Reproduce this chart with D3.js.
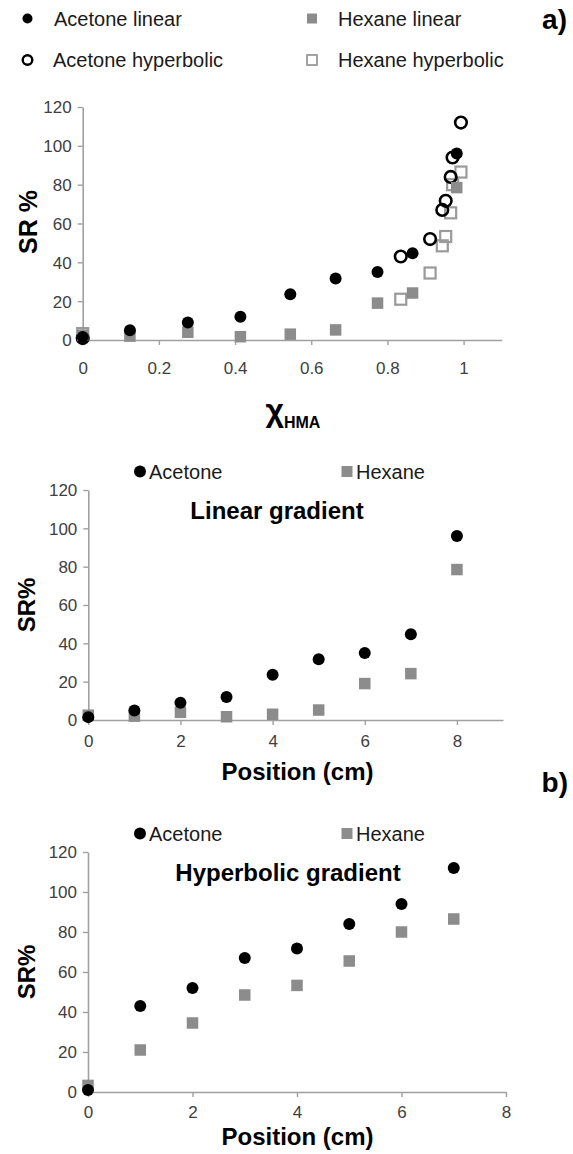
<!DOCTYPE html>
<html><head><meta charset="utf-8">
<script src="https://cdn.jsdelivr.net/npm/d3@7"></script>
<style>
html,body{margin:0;padding:0;background:#fff;}
text{font-family:"Liberation Sans",Arial,sans-serif;}
</style></head>
<body>
<svg id="chart" width="573" height="1154"></svg>
<script>
// ---- data ----
const positionsLinear = [0, 1, 2, 3, 4, 5, 6, 7, 8];
const positionsHyper = [0, 1, 2, 3, 4, 5, 6, 7];
const chiLinear = [0, 0.124, 0.276, 0.414, 0.545, 0.664, 0.774, 0.866, 0.982];
const chiHyper = [0, 0.835, 0.912, 0.944, 0.953, 0.966, 0.971, 0.993];
const acetoneLinear = [1.5, 5, 9, 12, 23.6, 31.7, 35, 44.7, 96];
const hexaneLinear = [2.5, 2, 4, 1.7, 3, 5.2, 19, 24.2, 78.5];
const acetoneHyper = [1, 43, 52, 67, 71.7, 84, 94, 112];
const hexaneHyper = [3.3, 21, 34.5, 48.5, 53.3, 65.5, 80, 86.5];
const yTicks = [0, 20, 40, 60, 80, 100, 120];
const chiTicks = [0, 0.2, 0.4, 0.6, 0.8, 1];
const posTicksLinear = [0, 2, 4, 6, 8];
const posTicksHyper = [0, 2, 4, 6, 8];

const svg = d3.select("#chart");
const AXIS = "#a0a0a0", TICKTXT = "#404040", GREY = "#8c8c8c", OPENGREY = "#9a9a9a";

function drawAxes(g, x, y, xTicks, fmt, xPad) {
  const xa = g.append("g").attr("transform", `translate(0,${y(0)})`)
    .call(d3.axisBottom(x).tickValues(xTicks).tickSize(5).tickPadding(xPad).tickFormat(fmt).tickSizeOuter(0));
  const ya = g.append("g").attr("transform", `translate(${x(0)},0)`)
    .call(d3.axisLeft(y).tickValues(yTicks).tickSize(5).tickPadding(6).tickSizeOuter(0));
  [xa, ya].forEach(a => {
    a.select(".domain").attr("stroke", AXIS).attr("stroke-width", 1.6);
    a.selectAll(".tick line").attr("stroke", AXIS).attr("stroke-width", 1.4);
    a.selectAll(".tick text").attr("fill", TICKTXT).style("font-size", "17px")
      .style("font-family", '"Liberation Sans",Arial,sans-serif');
  });
  ya.selectAll(".tick text").attr("dy", "0.35em");
  return {xa, ya};
}

function circles(g, xs, ys, x, y, opts) {
  g.append("g").selectAll("circle").data(xs.map((d, i) => [d, ys[i]])).join("circle")
    .attr("cx", d => x(d[0])).attr("cy", d => y(d[1])).attr("r", opts.r)
    .attr("fill", opts.fill).attr("stroke", opts.stroke || "none").attr("stroke-width", opts.sw || 0);
}
function squares(g, xs, ys, x, y, opts) {
  const s = opts.s;
  g.append("g").selectAll("rect").data(xs.map((d, i) => [d, ys[i]])).join("rect")
    .attr("x", d => x(d[0]) - s / 2).attr("y", d => y(d[1]) - s / 2).attr("width", s).attr("height", s)
    .attr("fill", opts.fill).attr("stroke", opts.stroke || "none").attr("stroke-width", opts.sw || 0);
}

// ---------- Panel a ----------
{
  const g = svg.append("g");
  const x = d3.scaleLinear().domain([0, 1.1]).range([82.7, 501.7]);
  const y = d3.scaleLinear().domain([0, 120]).range([340, 107]);
  drawAxes(g, x, y, chiTicks, d3.format("~g"), 17);
  squares(g, chiHyper, hexaneHyper, x, y, {s: 11, fill: "none", stroke: OPENGREY, sw: 2.2});
  circles(g, chiHyper, acetoneHyper, x, y, {r: 5.8, fill: "none", stroke: "#000", sw: 2.6});
  squares(g, chiLinear, hexaneLinear, x, y, {s: 11.5, fill: GREY});
  circles(g, chiLinear, acetoneLinear, x, y, {r: 6, fill: "#000"});

  // legend
  const lg = svg.append("g");
  lg.append("circle").attr("cx", 27.5).attr("cy", 18.5).attr("r", 5).attr("fill", "#000");
  lg.append("circle").attr("cx", 27.5).attr("cy", 60).attr("r", 4.8).attr("fill", "none").attr("stroke", "#000").attr("stroke-width", 2.4);
  lg.append("rect").attr("x", 307).attr("y", 13.5).attr("width", 10).attr("height", 10).attr("fill", GREY);
  lg.append("rect").attr("x", 307).attr("y", 55).attr("width", 10).attr("height", 10).attr("fill", "none").attr("stroke", OPENGREY).attr("stroke-width", 1.8);
  const lt = [["Acetone linear", 54, 18.5], ["Acetone hyperbolic", 53, 60], ["Hexane linear", 338, 18.5], ["Hexane hyperbolic", 338, 60]];
  lt.forEach(t => lg.append("text").attr("x", t[1]).attr("y", t[2]).attr("dy", "0.35em")
    .style("font-size", "20px").attr("fill", "#1a1a1a").text(t[0]));
  svg.append("text").attr("x", 567).attr("y", 19).attr("dy", "0.35em").attr("text-anchor", "end")
    .style("font-size", "28px").style("font-weight", "bold").text("a)");

  // axis labels
  svg.append("text").attr("transform", "translate(28,222) rotate(-90)").attr("text-anchor", "middle")
    .attr("dy", "0.35em").style("font-size", "25px").style("font-weight", "bold").text("SR %");
  const xl = svg.append("text").attr("x", 293).attr("y", 428).attr("text-anchor", "middle").style("font-weight", "bold");
  xl.append("tspan").style("font-size", "32px").attr("dy", "-7").text("χ");
  xl.append("tspan").style("font-size", "16px").attr("dy", "7").text("HMA");
}

// ---------- Panels b (linear / hyperbolic) ----------
function gradientPanel(opts) {
  const g = svg.append("g");
  const x = d3.scaleLinear().domain(opts.xDomain).range(opts.xRange);
  const y = d3.scaleLinear().domain([0, 120]).range(opts.yRange);
  drawAxes(g, x, y, opts.ticks, d3.format("d"), opts.xPad);
  squares(g, opts.pos, opts.hex, x, y, {s: 11.5, fill: GREY});
  circles(g, opts.pos, opts.ace, x, y, {r: 6, fill: "#000"});
  const top = opts.yRange[1];
  g.append("circle").attr("cx", 140).attr("cy", top - 18.5).attr("r", 6).attr("fill", "#000");
  g.append("text").attr("x", 149).attr("y", top - 18.5).attr("dy", "0.35em").style("font-size", "20px").attr("fill", "#1a1a1a").text("Acetone");
  g.append("rect").attr("x", 341.5).attr("y", top - 24).attr("width", 11).attr("height", 11).attr("fill", GREY);
  g.append("text").attr("x", 356).attr("y", top - 18.5).attr("dy", "0.35em").style("font-size", "20px").attr("fill", "#1a1a1a").text("Hexane");
  g.append("text").attr("x", opts.titleX).attr("y", top + 21).attr("dy", "0.35em").attr("text-anchor", "middle")
    .style("font-size", "24px").style("font-weight", "bold").text(opts.title);
  g.append("text").attr("transform", `translate(26.7,${(opts.yRange[0] + top) / 2}) rotate(-90)`).attr("text-anchor", "middle")
    .attr("dy", "0.35em").style("font-size", "24px").style("font-weight", "bold").text("SR%");
  g.append("text").attr("x", 297.5).attr("y", opts.yRange[0] + opts.labelOff).attr("dy", "0.35em").attr("text-anchor", "middle")
    .style("font-size", "24px").style("font-weight", "bold").text("Position (cm)");
}
gradientPanel({xDomain: [0, 9], xRange: [88.3, 503], yRange: [720, 490], ticks: posTicksLinear, xPad: 10, labelOff: 51.5,
  pos: positionsLinear, ace: acetoneLinear, hex: hexaneLinear, title: "Linear gradient", titleX: 277});
svg.append("text").attr("x", 568).attr("y", 782).attr("dy", "0.35em").attr("text-anchor", "end")
  .style("font-size", "28px").style("font-weight", "bold").text("b)");
gradientPanel({xDomain: [0, 8], xRange: [88, 506], yRange: [1092, 852], ticks: posTicksHyper, xPad: 9, labelOff: 45,
  pos: positionsHyper, ace: acetoneHyper, hex: hexaneHyper, title: "Hyperbolic gradient", titleX: 288});
</script>
</body></html>
